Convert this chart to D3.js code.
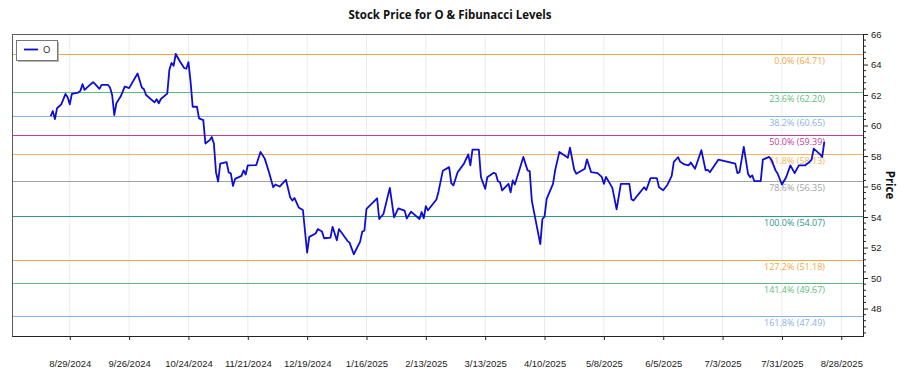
<!DOCTYPE html>
<html lang="en">

<head>
    <meta charset="UTF-8">
    <title>Stock Price for O & Fibunacci Levels</title>
    <script src="https://d3js.org/d3.v7.min.js"></script>
    <style>
        body {
            margin: 0;
            background: #fff;
        }

        svg {
            font-family: "Open Sans", "Noto Sans", sans-serif;
        }
    </style>
</head>

<body>
    <svg id="chart" width="900" height="375"></svg>

    <script>
        // closing prices
        const dates = [
            "2024-08-20", "2024-08-21", "2024-08-22", "2024-08-23", "2024-08-25", "2024-08-27", "2024-08-28", "2024-08-29",
            "2024-08-30", "2024-09-02", "2024-09-03", "2024-09-04", "2024-09-05", "2024-09-07", "2024-09-09", "2024-09-10",
            "2024-09-12", "2024-09-13", "2024-09-16", "2024-09-17", "2024-09-18", "2024-09-19", "2024-09-20", "2024-09-22",
            "2024-09-24", "2024-09-26", "2024-09-30", "2024-10-02", "2024-10-03", "2024-10-04", "2024-10-08", "2024-10-09",
            "2024-10-10", "2024-10-11", "2024-10-14", "2024-10-15", "2024-10-16", "2024-10-17", "2024-10-18", "2024-10-20",
            "2024-10-22", "2024-10-23", "2024-10-24", "2024-10-25", "2024-10-26", "2024-10-28", "2024-10-29", "2024-10-31",
            "2024-11-01", "2024-11-03", "2024-11-04", "2024-11-05", "2024-11-06", "2024-11-07", "2024-11-08", "2024-11-11",
            "2024-11-12", "2024-11-13", "2024-11-14", "2024-11-15", "2024-11-18", "2024-11-19", "2024-11-20", "2024-11-21",
            "2024-11-25", "2024-11-27", "2024-11-29", "2024-12-01", "2024-12-03", "2024-12-04", "2024-12-06", "2024-12-09",
            "2024-12-11", "2024-12-12", "2024-12-13", "2024-12-15", "2024-12-17", "2024-12-19", "2024-12-20", "2024-12-23",
            "2024-12-24", "2024-12-26", "2024-12-27", "2024-12-30", "2024-12-31", "2025-01-02", "2025-01-03", "2025-01-07",
            "2025-01-08", "2025-01-10", "2025-01-13", "2025-01-14", "2025-01-15", "2025-01-16", "2025-01-21", "2025-01-22",
            "2025-01-24", "2025-01-27", "2025-01-29", "2025-01-31", "2025-02-03", "2025-02-04", "2025-02-06", "2025-02-10",
            "2025-02-11", "2025-02-12", "2025-02-13", "2025-02-14", "2025-02-18", "2025-02-19", "2025-02-21", "2025-02-24",
            "2025-02-25", "2025-02-26", "2025-02-28", "2025-03-03", "2025-03-05", "2025-03-06", "2025-03-07", "2025-03-10",
            "2025-03-11", "2025-03-13", "2025-03-14", "2025-03-17", "2025-03-18", "2025-03-19", "2025-03-20", "2025-03-21",
            "2025-03-24", "2025-03-25", "2025-03-26", "2025-03-27", "2025-03-31", "2025-04-02", "2025-04-03", "2025-04-04",
            "2025-04-08", "2025-04-09", "2025-04-10", "2025-04-11", "2025-04-14", "2025-04-15", "2025-04-17", "2025-04-20",
            "2025-04-21", "2025-04-22", "2025-04-24", "2025-04-25", "2025-04-29", "2025-04-30", "2025-05-02", "2025-05-05",
            "2025-05-07", "2025-05-08", "2025-05-09", "2025-05-12", "2025-05-14", "2025-05-16", "2025-05-20", "2025-05-21",
            "2025-05-22", "2025-05-24", "2025-05-27", "2025-05-28", "2025-05-30", "2025-06-02", "2025-06-03", "2025-06-05",
            "2025-06-07", "2025-06-09", "2025-06-10", "2025-06-12", "2025-06-13", "2025-06-15", "2025-06-17", "2025-06-18",
            "2025-06-20", "2025-06-23", "2025-06-25", "2025-06-26", "2025-06-27", "2025-07-01", "2025-07-09", "2025-07-10",
            "2025-07-11", "2025-07-13", "2025-07-15", "2025-07-16", "2025-07-17", "2025-07-18", "2025-07-21", "2025-07-22",
            "2025-07-25", "2025-07-26", "2025-07-28", "2025-07-29", "2025-07-31", "2025-08-02", "2025-08-04", "2025-08-06",
            "2025-08-08", "2025-08-11", "2025-08-13", "2025-08-14", "2025-08-15", "2025-08-18", "2025-08-19", "2025-08-20"
        ];
        const prices = [
            60.62, 60.95, 60.42, 61.13, 61.39, 62.07, 61.85, 61.39,
            62.07, 62.16, 62.27, 62.71, 62.34, 62.60, 62.84, 62.71,
            62.40, 62.67, 62.67, 62.49, 62.00, 60.69, 61.46, 61.90,
            62.56, 62.45, 63.41, 62.49, 62.38, 62.00, 61.52, 61.72,
            61.46, 61.74, 62.09, 63.66, 64.10, 63.92, 64.69, 64.20,
            63.77, 63.72, 64.16, 62.88, 61.23, 61.23, 60.47, 60.35,
            58.82, 59.04, 59.25, 58.82, 56.94, 56.33, 57.50, 57.60,
            56.92, 56.86, 56.04, 56.50, 56.70, 57.06, 56.79, 57.39,
            57.41, 58.27, 57.83, 56.94, 55.95, 56.13, 56.00, 56.44,
            55.29, 55.08, 55.25, 54.63, 54.46, 51.66, 52.70, 52.92,
            53.21, 53.05, 52.61, 52.65, 53.36, 52.48, 53.21, 52.44,
            52.32, 51.56, 52.39, 53.05, 53.10, 54.53, 55.23, 53.87,
            54.20, 55.91, 53.97, 54.57, 54.42, 53.91, 54.35, 53.87,
            54.33, 53.92, 54.72, 54.44, 55.15, 55.68, 57.03, 57.27,
            56.22, 56.07, 56.94, 57.50, 58.11, 57.39, 58.42, 58.42,
            56.61, 55.85, 56.61, 56.90, 56.84, 56.35, 56.28, 55.74,
            56.18, 55.62, 56.40, 56.13, 57.94, 57.06, 57.01, 55.08,
            52.22, 53.87, 54.02, 55.19, 56.18, 57.06, 58.27, 57.98,
            57.89, 58.55, 57.10, 56.84, 57.17, 57.78, 56.94, 56.88,
            56.63, 56.18, 56.63, 55.91, 54.50, 56.18, 56.18, 55.17,
            55.08, 55.44, 55.95, 55.77, 56.55, 56.55, 55.95, 55.76,
            56.12, 56.70, 57.61, 57.92, 57.62, 57.45, 57.39, 57.58,
            57.17, 58.38, 57.06, 57.10, 56.94, 57.76, 57.50, 56.88,
            56.94, 58.60, 56.84, 56.61, 56.73, 56.35, 56.35, 57.76,
            57.94, 57.76, 57.06, 56.84, 56.13, 56.61, 57.39, 56.88,
            57.39, 57.39, 57.61, 57.76, 58.49, 58.11, 57.94, 58.92
        ];

        // fibonacci levels
        const fibRatios = ["0.0%", "23.6%", "38.2%", "50.0%", "61.8%", "78.6%", "100.0%", "127.2%", "141.4%", "161.8%"];
        const fibPrices = [64.71, 62.20, 60.65, 59.39, 58.13, 56.35, 54.07, 51.18, 49.67, 47.49];
        const fibColors = ["#f3a646", "#5fbb7d", "#8ab1e6", "#c2409a", "#f1b458", "#a3a3a3", "#2f978b", "#f3a646", "#5fbb7d", "#8ab1e6"];

        // axis ticks
        const xTickLabels = ["8/29/2024", "9/26/2024", "10/24/2024", "11/21/2024", "12/19/2024", "1/16/2025", "2/13/2025",
            "3/13/2025", "4/10/2025", "5/8/2025", "6/5/2025", "7/3/2025", "7/31/2025", "8/28/2025"];
        const yTicks = [48, 50, 52, 54, 56, 58, 60, 62, 64, 66];

        const seriesName = "O";
        const title = "Stock Price for O & Fibunacci Levels";

        const parseDate = d3.timeParse("%Y-%m-%d");
        const parseTick = d3.timeParse("%m/%d/%Y");
        const data = dates.map((d, i) => ({ date: parseDate(d), value: prices[i] }));

        const margin = { top: 34, right: 37, bottom: 39, left: 12 };
        const width = 900 - margin.left - margin.right,
            height = 375 - margin.top - margin.bottom;

        const svg = d3.select("#chart");
        const g = svg.append("g").attr("transform", `translate(${margin.left},${margin.top})`);

        // x: time scale padded ~5% on both sides
        const ext = d3.extent(data, d => d.date);
        const pad = (ext[1] - ext[0]) * 0.05;
        const x = d3.scaleTime()
            .domain([new Date(+ext[0] - pad), new Date(+ext[1] + pad)])
            .range([0, width]);

        const y = d3.scaleLinear()
            .domain([46.2, 66])
            .range([height, 0]);

        const xTicks = xTickLabels.map(parseTick);

        // vertical grid
        g.append("g")
            .selectAll("line")
            .data(xTicks)
            .join("line")
            .attr("x1", d => x(d)).attr("x2", d => x(d))
            .attr("y1", 0).attr("y2", height)
            .attr("stroke", "#ebebeb")
            .attr("stroke-width", 1);

        // fib lines
        g.append("g")
            .selectAll("line")
            .data(fibPrices)
            .join("line")
            .attr("x1", 0).attr("x2", width)
            .attr("y1", d => Math.round(y(d)) + 0.5).attr("y2", d => Math.round(y(d)) + 0.5)
            .attr("stroke", (d, i) => fibColors[i])
            .attr("stroke-width", 1);

        g.append("g")
            .selectAll("text")
            .data(fibPrices)
            .join("text")
            .attr("x", width - 38)
            .attr("y", d => y(d) + 10)
            .attr("text-anchor", "end")
            .attr("font-size", 9)
            .attr("fill", (d, i) => fibColors[i])
            .text((d, i) => `${fibRatios[i]} (${d.toFixed(2)})`);

        // price line
        const line = d3.line()
            .x(d => x(d.date))
            .y(d => y(d.value));

        g.append("path")
            .datum(data)
            .attr("fill", "none")
            .attr("stroke", "#0d0dd6")
            .attr("stroke-width", 1.8)
            .attr("stroke-linejoin", "round")
            .attr("d", line);

        // frame
        g.append("rect")
            .attr("x", 0.5).attr("y", 0.5)
            .attr("width", width).attr("height", height)
            .attr("fill", "none")
            .attr("stroke", "#5a5a5a");

        // bottom axis
        const xAxis = g.append("g")
            .attr("transform", `translate(0,${height})`)
            .call(d3.axisBottom(x).tickValues(xTicks).tickFormat((d, i) => xTickLabels[i])
                .tickSize(4).tickSizeOuter(0).tickPadding(20));
        xAxis.select(".domain").attr("stroke", "#222");
        xAxis.selectAll("line").attr("stroke", "#222");
        xAxis.selectAll("text").attr("font-size", 9.5).attr("fill", "#222").attr("font-family", null);

        // right axis with minor ticks
        const minor = d3.range(46.4, 66.01, 0.4).filter(v => !yTicks.some(t => Math.abs(t - v) < 0.01));
        g.append("g")
            .attr("transform", `translate(${width},0)`)
            .selectAll("line")
            .data(minor)
            .join("line")
            .attr("x1", 0).attr("x2", 3)
            .attr("y1", d => y(d)).attr("y2", d => y(d))
            .attr("stroke", "#222");

        const yAxis = g.append("g")
            .attr("transform", `translate(${width},0)`)
            .call(d3.axisRight(y).tickValues(yTicks).tickSize(5).tickSizeOuter(0).tickPadding(3));
        yAxis.select(".domain").attr("stroke", "#222");
        yAxis.selectAll("line").attr("stroke", "#222");
        yAxis.selectAll("text").attr("font-size", 9.5).attr("fill", "#222").attr("font-family", null);

        g.append("text")
            .attr("transform", `translate(${width + 23},${height / 2}) rotate(90)`)
            .attr("text-anchor", "middle")
            .attr("font-size", 11.5)
            .attr("font-weight", "bold")
            .attr("fill", "#111")
            .text("Price");

        // title
        svg.append("text")
            .attr("x", 450)
            .attr("y", 19)
            .attr("text-anchor", "middle")
            .attr("font-size", 11.5)
            .attr("font-weight", "bold")
            .attr("fill", "#111")
            .text(title);

        // legend
        const lg = g.append("g").attr("transform", "translate(4,6)");
        lg.append("rect")
            .attr("x", 2).attr("y", 2)
            .attr("width", 41).attr("height", 20)
            .attr("fill", "#b5b5b5");
        lg.append("rect")
            .attr("x", 0.5).attr("y", 0.5)
            .attr("width", 41).attr("height", 20)
            .attr("fill", "#fff")
            .attr("stroke", "#777");
        lg.append("line")
            .attr("x1", 8).attr("x2", 22)
            .attr("y1", 9.5).attr("y2", 9.5)
            .attr("stroke", "#0d0dd6")
            .attr("stroke-width", 1.8);
        lg.append("text")
            .attr("x", 27).attr("y", 13)
            .attr("font-size", 9.5)
            .attr("fill", "#222")
            .text(seriesName);
    </script>
</body>

</html>
